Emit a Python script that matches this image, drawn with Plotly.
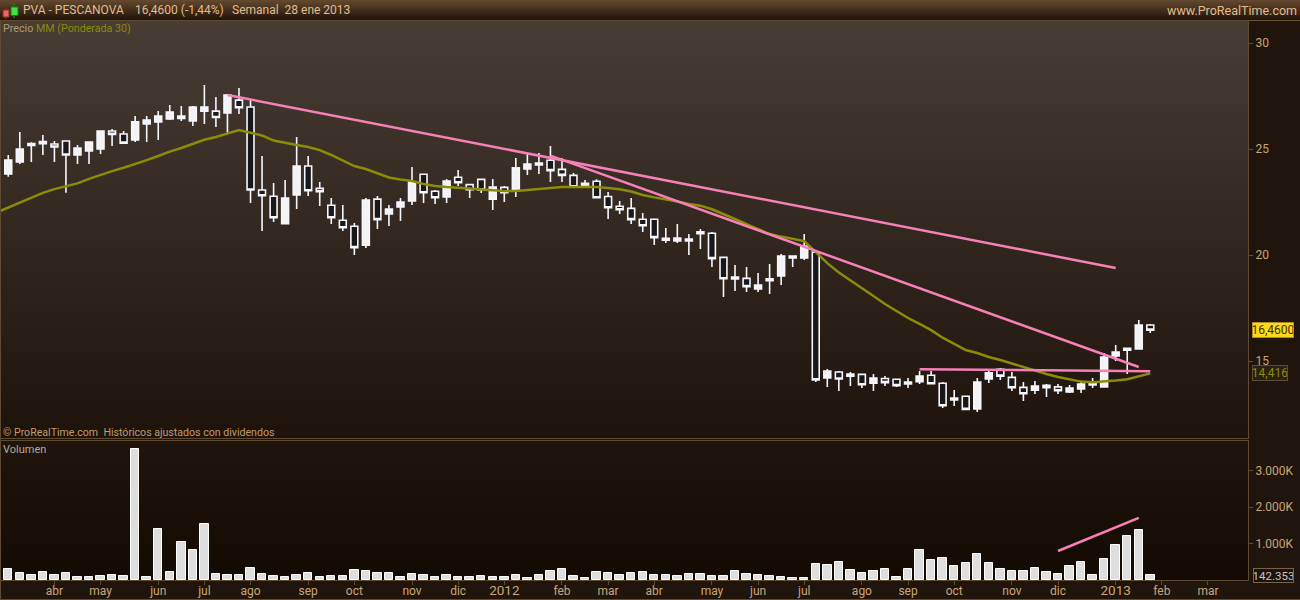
import pandas as pd
import plotly.graph_objects as go

W, H = 1300, 600

# ---- data -----------------------------------------------------------------
first_week = "2011-03-07"
opens = [23.82,24.39,25.17,25.25,25.24,25.38,24.72,24.91,25.00,25.85,
         25.71,25.43,26.18,26.28,26.42,26.44,26.32,26.79,26.79,26.70,
         27.31,26.98,23.07,22.77,21.48,22.83,24.20,23.15,22.35,21.64,
         21.36,20.47,22.64,21.94,22.27,22.55,23.81,23.01,22.74,23.67,
         23.32,23.57,22.64,23.19,23.02,24.06,24.25,24.47,24.04,23.76,
         23.29,23.48,22.76,22.30,22.20,21.69,21.69,20.70,20.66,20.66,
         21.01,21.03,19.89,18.87,18.90,18.40,18.79,19.01,19.86,19.86,
         20.14,14.20,14.48,14.29,14.37,13.96,14.18,14.14,13.92,14.03,
         14.33,13.95,13.16,13.34,12.74,14.15,14.61,14.23,13.76,13.63,
         13.74,13.78,13.54,13.68,13.87,13.78,15.24,15.51,15.57,16.70]
highs = [24.72,25.80,25.32,25.66,25.38,25.38,25.19,25.33,25.85,25.95,
         25.85,26.56,26.56,26.79,27.08,27.03,27.03,28.02,27.45,27.60,
         27.88,27.31,24.67,23.40,23.54,25.57,24.67,23.45,22.69,22.36,
         21.51,22.69,22.78,22.36,22.69,24.15,23.82,23.07,23.59,24.01,
         23.35,23.59,23.59,23.26,24.58,24.81,24.81,25.14,24.58,23.87,
         23.54,23.57,22.97,22.55,22.69,21.98,21.70,21.28,21.46,20.99,
         21.23,21.09,19.91,19.53,19.44,19.15,19.58,20.05,19.95,20.99,
         20.14,14.62,14.53,14.48,14.39,14.39,14.29,14.15,14.20,14.53,
         14.53,14.01,13.63,13.34,14.20,14.53,14.67,14.48,14.01,14.06,
         13.92,13.92,13.87,14.06,14.20,15.38,15.76,15.61,16.94,16.75]
lows = [23.69,24.29,24.39,24.72,24.39,22.94,24.29,24.29,24.77,25.14,
        25.28,25.33,25.33,25.43,26.37,26.32,26.09,26.18,26.04,25.76,
        26.65,22.45,21.13,21.56,21.48,22.17,22.78,22.31,21.46,21.13,
        20.00,20.33,21.23,21.37,21.61,22.36,22.45,22.41,22.45,23.26,
        22.69,22.93,22.12,22.50,22.74,23.78,23.82,23.45,23.45,23.22,
        23.22,22.70,21.70,21.94,21.46,21.09,20.47,20.57,20.57,20.00,
        20.28,19.44,18.02,18.30,18.26,18.26,18.16,18.59,19.44,19.77,
        14.01,13.78,13.59,13.82,13.73,13.59,13.82,13.78,13.73,13.92,
        13.92,12.78,12.88,12.72,12.60,13.96,14.11,13.59,13.11,13.45,
        13.30,13.45,13.49,13.49,13.73,13.78,15.00,14.39,15.57,16.32]
closes = [24.48,25.00,25.26,25.35,25.10,24.72,25.05,25.33,25.85,25.69,
          25.28,26.28,26.37,26.56,26.75,26.56,26.98,26.98,26.49,27.55,
          26.95,23.07,22.80,21.76,22.69,24.20,23.03,22.99,21.76,21.29,
          20.35,22.60,21.67,22.17,22.50,23.45,22.94,22.70,23.49,23.41,
          23.08,23.07,23.21,22.94,24.11,24.29,24.34,23.98,23.76,23.22,
          23.38,22.70,22.23,22.14,21.67,21.38,20.82,20.79,20.80,20.76,
          21.10,19.83,18.88,18.96,18.51,18.59,18.88,19.95,19.95,20.43,
          14.11,14.53,14.15,14.39,13.88,14.20,13.98,13.84,14.01,14.29,
          13.93,12.89,13.26,12.72,14.01,14.44,14.29,13.74,13.46,13.82,
          13.86,13.60,13.73,13.92,13.96,15.19,15.43,15.60,16.70,16.46]
# 30-period weighted average; first value belongs to the week before first_week
wma30 = [22.01,22.24,22.45,22.69,22.93,23.11,23.26,23.38,23.59,23.78,23.96,
         24.12,24.29,24.48,24.67,24.88,25.05,25.24,25.44,25.57,25.73,
         25.90,25.77,25.64,25.40,25.28,25.19,25.10,24.95,24.72,24.46,
         24.20,24.06,23.87,23.66,23.56,23.49,23.35,23.26,23.21,23.19,
         23.14,23.09,23.04,23.02,23.02,23.07,23.10,23.16,23.21,23.21,
         23.21,23.21,23.16,23.10,23.00,22.83,22.72,22.64,22.53,22.41,
         22.33,22.16,21.94,21.70,21.46,21.23,20.99,20.87,20.76,20.66,
         20.14,19.62,19.18,18.82,18.45,18.07,17.69,17.36,17.03,16.75,
         16.46,16.10,15.80,15.52,15.38,15.19,15.05,14.88,14.72,14.53,
         14.39,14.25,14.13,14.03,14.00,14.03,14.08,14.14,14.27,14.42]
volumes = [301,192,137,219,137,192,82,82,110,137,
           110,3588,82,1397,219,1041,822,1534,164,137,
           137,329,164,110,82,137,192,82,110,110,
           274,247,192,192,82,164,137,82,137,82,
           82,110,82,82,137,55,137,247,301,110,
           55,219,192,137,192,219,137,137,110,164,
           164,110,110,247,164,137,110,82,55,55,
           438,411,493,274,192,247,301,82,301,822,
           548,603,383,466,712,466,301,247,247,329,
           219,164,383,493,137,575,959,1205,1370,142]

trend_a_dates = ["2011-07-18", "2013-01-07"]
trend_a_vals = [27.55, 19.39]
trend_b_dates = ["2012-01-30", "2013-01-21"]
trend_b_vals = [24.69, 14.72]
trend_c_dates = ["2012-09-10", "2013-01-28"]
trend_c_vals = [14.61, 14.52]
trend_v_dates = ["2012-12-03", "2013-01-21"]
trend_v_vals = [795, 1700]

tick_dates = ["2011-04-04","2011-05-02","2011-06-06","2011-07-04","2011-08-01","2011-09-05",
              "2011-10-03","2011-11-07","2011-12-05","2012-01-02","2012-02-06","2012-03-05",
              "2012-04-02","2012-05-07","2012-06-04","2012-07-02","2012-08-06","2012-09-03",
              "2012-10-01","2012-11-05","2012-12-03","2013-01-07","2013-02-04","2013-03-04"]
tick_labels = ["abr","may","jun","jul","ago","sep","oct","nov","dic","2012","feb","mar",
               "abr","may","jun","jul","ago","sep","oct","nov","dic","2013","feb","mar"]
price_ticks = [15, 20, 25, 30]
volume_ticks = [1000, 2000, 3000]
volume_tick_labels = ["1.000K", "2.000K", "3.000K"]

# ---- scales ---------------------------------------------------------------
weeks = pd.date_range(first_week, periods=len(closes), freq="7D")
ma_weeks = pd.date_range(pd.Timestamp(first_week) - pd.Timedelta(days=7), periods=len(wma30), freq="7D")
x_start = pd.Timestamp(first_week) + pd.Timedelta(days=-0.63 * 7)
x_end = pd.Timestamp(first_week) + pd.Timedelta(days=107.47 * 7)
DAY_MS = 86400000

FONT = "Roboto"
TAN = "#c9a578"
BORDER = "#5f4a32"
PINK = "#f880b8"
OLIVE = "#8c8c08"


def px(x):
    return x / W


def py(y):
    return 1 - y / H


def hex_mix(a, b, t):
    ca = [int(a[i:i + 2], 16) for i in (1, 3, 5)]
    cb = [int(b[i:i + 2], 16) for i in (1, 3, 5)]
    return "#" + "".join(f"{round(u + (v - u) * t):02x}" for u, v in zip(ca, cb))


def gradient(x0, x1, y0, y1, top, bottom, step=2):
    out = []
    y = y0
    while y < y1:
        t = (y - y0) / max(y1 - y0, 1)
        out.append(dict(type="rect", xref="paper", yref="paper", layer="below",
                        x0=px(x0), x1=px(x1), y0=py(min(y + step, y1)), y1=py(y),
                        fillcolor=hex_mix(top, bottom, t), line_width=0))
        y += step
    return out


shapes = []
shapes += gradient(0, W, 0, 20, "#62482e", "#1f1107", step=1)
shapes += gradient(1, 1248, 21, 438, "#473d34", "#1d130b")
shapes += gradient(1, 1248, 441, 580, "#1f150c", "#130a03")
shapes.append(dict(type="line", xref="paper", yref="paper", x0=0, x1=1, y0=py(20.5), y1=py(20.5),
                   line=dict(color="#6b5234", width=1), layer="below"))
shapes.append(dict(type="line", xref="paper", yref="paper", x0=0, x1=1, y0=py(599.5), y1=py(599.5),
                   line=dict(color=BORDER, width=1), layer="below"))
shapes.append(dict(type="line", xref="paper", yref="paper", x0=px(0.5), x1=px(0.5), y0=0, y1=py(20),
                   line=dict(color=BORDER, width=1), layer="below"))
# header icon: small red and green candles
for cx, wt, wb, bx0, bx1, bt, bb, fill, edge in [
    (6, 8, 19, 3, 9, 10, 17, "#f06468", "#8a2a2a"),
    (14, 3, 18, 11, 18, 7, 15.5, "#44e044", "#1c7a1c"),
]:
    shapes.append(dict(type="line", xref="paper", yref="paper", x0=px(cx), x1=px(cx),
                       y0=py(wt), y1=py(wb), line=dict(color=edge, width=1.5)))
    shapes.append(dict(type="rect", xref="paper", yref="paper", x0=px(bx0), x1=px(bx1),
                       y0=py(bb), y1=py(bt), fillcolor=fill, line=dict(color=edge, width=1)))

fig = go.Figure()
fig.add_trace(go.Candlestick(
    x=weeks, open=opens, high=highs, low=lows, close=closes,
    xaxis="x", yaxis="y", showlegend=False, hoverinfo="skip",
    whiskerwidth=0,
    increasing=dict(line=dict(color="#f6f6ff", width=1.6), fillcolor="#f3f3f3"),
    decreasing=dict(line=dict(color="#f6f6ff", width=1.6), fillcolor="#181818"),
))
fig.add_trace(go.Scatter(x=ma_weeks, y=wma30, mode="lines", xaxis="x", yaxis="y",
                         line=dict(color=OLIVE, width=2.5), showlegend=False, hoverinfo="skip"))
for tx, ty in [(trend_a_dates, trend_a_vals), (trend_b_dates, trend_b_vals), (trend_c_dates, trend_c_vals)]:
    fig.add_trace(go.Scatter(x=pd.to_datetime(tx), y=ty, mode="lines", xaxis="x", yaxis="y",
                             line=dict(color=PINK, width=2.5), showlegend=False, hoverinfo="skip"))
fig.add_trace(go.Bar(x=weeks, y=volumes, xaxis="x2", yaxis="y2", width=5.1 * DAY_MS,
                     marker=dict(color="#dedede", line=dict(color="#ffffff", width=1)),
                     showlegend=False, hoverinfo="skip"))
fig.add_trace(go.Scatter(x=pd.to_datetime(trend_v_dates), y=trend_v_vals, mode="lines", xaxis="x2", yaxis="y2",
                         line=dict(color=PINK, width=2.5), showlegend=False, hoverinfo="skip"))


def note(x, y, text, color=TAN, size=12, xanchor="left", **kw):
    base = dict(xref="paper", yref="paper", x=px(x), y=py(y), text=text, showarrow=False,
                xanchor=xanchor, yanchor="middle", font=dict(family=FONT, size=size, color=color),
                borderpad=0, borderwidth=0)
    base.update(kw)
    return base


annotations = [
    note(23, 10.5, "PVA - PESCANOVA", color="#e2bc90", size=12),
    note(135, 10.5, "16,4600 (-1,44%)", color="#e2bc90", size=12),
    note(232, 10.5, "Semanal  28 ene 2013", color="#e2bc90", size=12),
    note(1297, 10.5, "www.ProRealTime.com", color="#e2bc90", size=12.5, xanchor="right"),
    note(3, 28.5, "Precio", color="#b39a6c", size=10.7),
    note(36, 28.5, "MM (Ponderada 30)", color=OLIVE, size=10.7),
    note(3, 432, "© ProRealTime.com  Históricos ajustados con dividendos", color="#c09a6c", size=10.6),
    note(3, 449.5, "Volumen", color="#b5a998", size=11),
    dict(xref="paper", yref="y", x=px(1252), y=closes[-1], text="16,4600", showarrow=False,
         xanchor="left", yanchor="middle", width=40, height=14, align="center",
         font=dict(family=FONT, size=12, color="#3a3000"), bgcolor="#ffd81c",
         bordercolor="#b08c20", borderwidth=1, borderpad=0),
    dict(xref="paper", yref="y", x=px(1252), y=wma30[-1], text="14,416", showarrow=False,
         xanchor="left", yanchor="middle", width=34, height=14, align="center",
         font=dict(family=FONT, size=12, color=OLIVE), bgcolor="#2a2016",
         bordercolor=BORDER, borderwidth=1, borderpad=0),
    dict(xref="paper", yref="y2", x=px(1252.5), y=volumes[-1] - 20, text="142.353", showarrow=False,
         xanchor="left", yanchor="middle", width=39, height=13, align="center",
         font=dict(family=FONT, size=11.5, color="#c4c4cc"), bgcolor="#1c1309",
         bordercolor="#7a6244", borderwidth=1, borderpad=0),
]

ticktext = [f'<span style="font-size:13.5px">{t}</span>' if t.isdigit() else t for t in tick_labels]
axis_common = dict(showgrid=False, zeroline=False, showline=True, mirror=True,
                   linecolor=BORDER, linewidth=1, tickcolor=BORDER,
                   tickfont=dict(family=FONT, size=12, color=TAN))
fig.update_layout(
    width=W, height=H, margin=dict(l=0, r=0, t=0, b=0), autosize=False,
    template="none", paper_bgcolor="#1f150c", plot_bgcolor="rgba(0,0,0,0)",
    showlegend=False, boxgap=0.4, boxgroupgap=0, bargap=0, hovermode=False,
    shapes=shapes, annotations=annotations,
    xaxis=dict(domain=[px(1), px(1248)], anchor="y", range=[x_start, x_end], type="date",
               rangeslider=dict(visible=False), showticklabels=False, ticks="", **axis_common),
    yaxis=dict(domain=[py(438), py(21)], anchor="x", side="right", range=[11.37, 31.04],
               tickmode="array", tickvals=price_ticks, ticktext=[str(v) for v in price_ticks],
               ticks="outside", ticklen=4, **axis_common),
    xaxis2=dict(domain=[px(1), px(1248)], anchor="y2", range=[x_start, x_end], type="date",
                matches="x", tickmode="array", tickvals=pd.to_datetime(tick_dates), ticktext=ticktext,
                ticks="outside", ticklen=4, tickangle=0, ticklabelstandoff=-4, **axis_common),
    yaxis2=dict(domain=[py(580), py(441)], anchor="x2", side="right", range=[0, 3808],
                tickmode="array", tickvals=volume_ticks, ticktext=volume_tick_labels,
                ticks="outside", ticklen=4, **axis_common),
)

fig.write_html("out.html", config=dict(displayModeBar=False, responsive=False),
               post_script="document.body.style.margin='0';document.documentElement.style.overflow='hidden';")
